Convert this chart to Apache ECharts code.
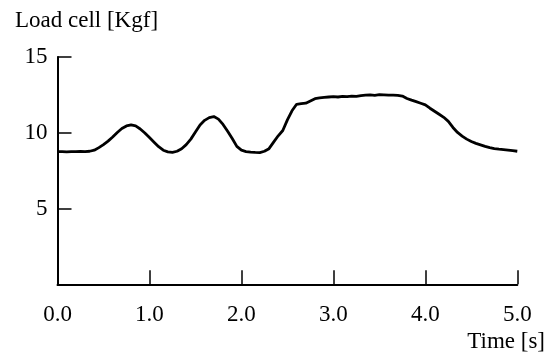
<!DOCTYPE html>
<html>
<head>
<meta charset="utf-8">
<script src="https://cdn.jsdelivr.net/npm/echarts@6/dist/echarts.min.js"></script>
<style>
  html, body { margin: 0; padding: 0; background: #fff; }
  #chart { width: 555px; height: 354px; }
</style>
</head>
<body>
<div id="chart"></div>
<script>
// time in seconds, 0.05 s steps
const times = []
for (let i = 0; i <= 100; i++) times.push(+(i * 0.05).toFixed(2))

// load cell reading [Kgf]
const load = [
  8.75, 8.76, 8.74, 8.76, 8.75, 8.77, 8.76, 8.78,
  8.85, 9.02, 9.22, 9.45, 9.72, 10.02, 10.28, 10.45, 10.52, 10.45,
  10.25, 9.98, 9.68, 9.38, 9.08, 8.85, 8.74, 8.70, 8.78, 8.95,
  9.22, 9.58, 10.05, 10.52, 10.82, 11.00, 11.07, 10.90, 10.55, 10.10,
  9.62, 9.10, 8.85, 8.76, 8.72, 8.70, 8.69, 8.78, 8.95, 9.38,
  9.80, 10.15, 10.85, 11.45, 11.88, 11.92, 11.95, 12.10, 12.25, 12.30,
  12.33, 12.36, 12.38, 12.36, 12.40, 12.38, 12.42, 12.40, 12.45, 12.48,
  12.50, 12.47, 12.51, 12.50, 12.49, 12.48, 12.47, 12.42, 12.26, 12.15,
  12.05, 11.95, 11.84, 11.62, 11.42, 11.22, 11.02, 10.75, 10.35, 10.02,
  9.78, 9.58, 9.42, 9.30, 9.20, 9.10, 9.02, 8.96, 8.92, 8.89,
  8.86, 8.82, 8.78
]

const yTicks = [0, 5, 10, 15]
const xTicks = [0, 1, 2, 3, 4, 5]

const font = "Liberation Serif"

const chart = echarts.init(document.getElementById("chart"), null, { renderer: "canvas" })

chart.setOption({
  animation: false,
  backgroundColor: "#fff",
  grid: { left: 57.5, right: 37.7, top: 57, bottom: 69.7 },
  xAxis: {
    type: "value",
    min: xTicks[0],
    max: xTicks[xTicks.length - 1],
    interval: 1,
    axisLine: { lineStyle: { color: "#000", width: 2 } },
    axisTick: { inside: true, length: 14, lineStyle: { color: "#000", width: 1.5 } },
    axisLabel: {
      margin: 19,
      color: "#000",
      fontFamily: font,
      fontSize: 23,
      formatter: (v) => v.toFixed(1),
    },
    splitLine: { show: false },
  },
  yAxis: {
    type: "value",
    min: yTicks[0],
    max: yTicks[yTicks.length - 1],
    interval: 5,
    axisLine: { show: true, lineStyle: { color: "#000", width: 2 } },
    axisTick: { show: true, inside: true, length: 14, lineStyle: { color: "#000", width: 1.5 } },
    axisLabel: {
      margin: 10,
      color: "#000",
      fontFamily: font,
      fontSize: 23,
      formatter: (v) => (v === 0 ? "" : String(v)),
    },
    splitLine: { show: false },
  },
  graphic: [
    {
      type: "text",
      left: 15,
      top: 9,
      style: { text: "Load cell [Kgf]", fontFamily: font, fontSize: 23, fill: "#000" },
    },
    {
      type: "text",
      right: 10,
      top: 330,
      style: { text: "Time [s]", fontFamily: font, fontSize: 23, fill: "#000" },
    },
  ],
  series: [
    {
      type: "line",
      data: times.map((t, i) => [t, load[i]]),
      symbol: "none",
      lineStyle: { color: "#000", width: 2.8 },
    },
  ],
})
</script>
</body>
</html>
